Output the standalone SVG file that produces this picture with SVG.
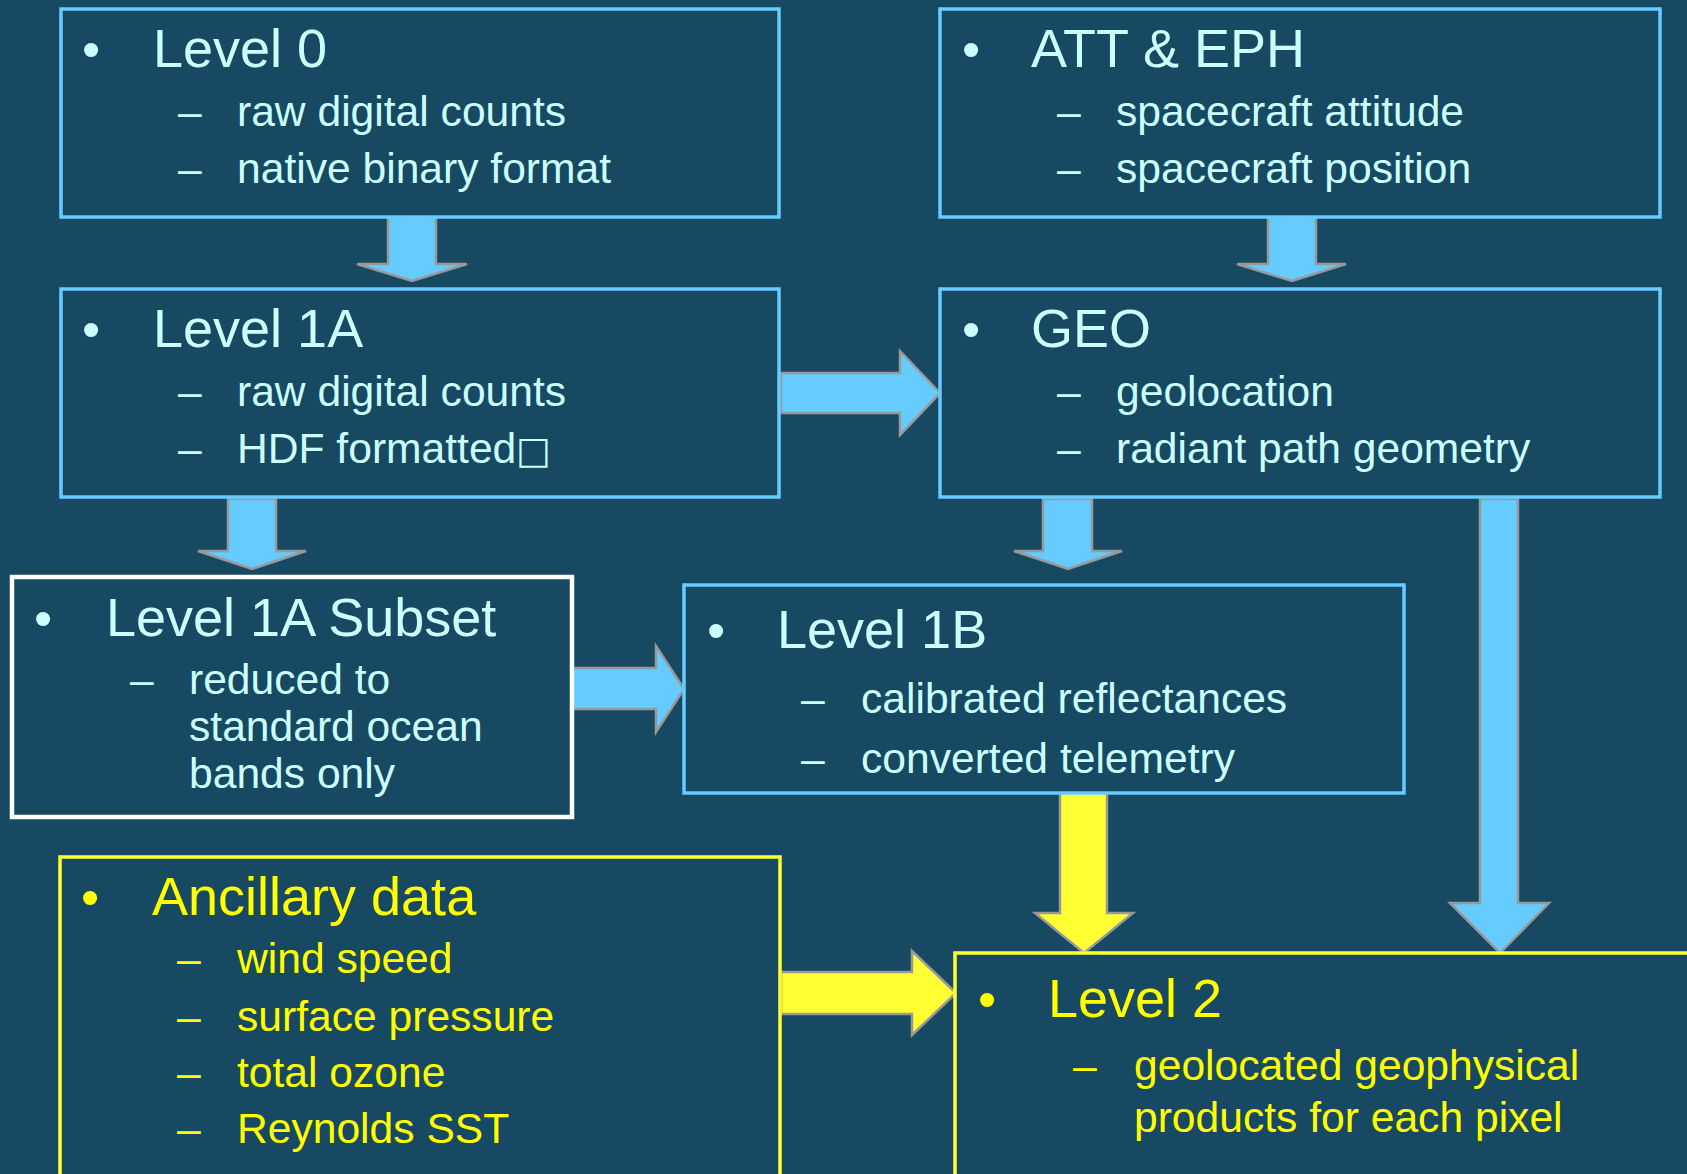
<svg xmlns="http://www.w3.org/2000/svg" width="1687" height="1174" viewBox="0 0 1687 1174">
<style>
text{font-family:"Liberation Sans",Arial,sans-serif}
.t{font-size:54px}
.s{font-size:42.6px}
.b{font-size:52px;text-anchor:middle}
.c{fill:#ccffff}
.y{fill:#ffff00}
.bx{fill:#184962;stroke:#66ccff;stroke-width:3.5}
.wb{fill:#184962;stroke:#ffffff;stroke-width:4.5}
.yb{fill:#184962;stroke:#ffff33;stroke-width:3.5}
.ab{fill:#66ccff;stroke:#999999;stroke-width:2.5;stroke-linejoin:miter}
.ay{fill:#ffff33;stroke:#999999;stroke-width:2.5;stroke-linejoin:miter}
</style>
<rect x="0" y="0" width="1687" height="1174" fill="#184962"/>

<g id="connectors">
<polygon class="ab" points="388,217 436,217 436,264 467,264 412,281 357,264 388,264"/>
<polygon class="ab" points="1268,217 1316,217 1316,264 1346,264 1292,281 1237,264 1268,264"/>
<polygon class="ab" points="228,499 276,499 276,551 306,551 252,569 198,551 228,551"/>
<polygon class="ab" points="1043,499 1092,499 1092,551 1122,551 1068,569 1014,551 1043,551"/>
<polygon class="ab" points="1480,499 1518,499 1518,903 1549,903 1500,953 1450,903 1480,903"/>
<polygon class="ab" points="781,373 900,373 900,351 940,393 900,435 900,413 781,413"/>
<polygon class="ab" points="571,668 656,668 656,646 684,689 656,732 656,709 571,709"/>
<polygon class="ay" points="1060,793 1107,793 1107,913 1133,913 1084,953 1035,913 1060,913"/>
<polygon class="ay" points="781,972 912,972 912,951 956,993 912,1035 912,1014 781,1014"/>
</g>

<g id="level0">
<rect class="bx" x="61" y="9" width="718" height="208"/>
<text class="b c" x="91" y="67">•</text>
<text class="t c" x="153" y="67">Level 0</text>
<text class="s c" x="178" y="126">–</text>
<text class="s c" x="237" y="126">raw digital counts</text>
<text class="s c" x="178" y="183">–</text>
<text class="s c" x="237" y="183">native binary format</text>
</g>

<g id="atteph">
<rect class="bx" x="940" y="9" width="720" height="208"/>
<text class="b c" x="971" y="67">•</text>
<text class="t c" x="1031" y="67">ATT &amp; EPH</text>
<text class="s c" x="1057" y="126">–</text>
<text class="s c" x="1116" y="126">spacecraft attitude</text>
<text class="s c" x="1057" y="183">–</text>
<text class="s c" x="1116" y="183">spacecraft position</text>
</g>

<g id="level1a">
<rect class="bx" x="61" y="289" width="718" height="208"/>
<text class="b c" x="91" y="347">•</text>
<text class="t c" x="153" y="347">Level 1A</text>
<text class="s c" x="178" y="406">–</text>
<text class="s c" x="237" y="406">raw digital counts</text>
<text class="s c" x="178" y="463">–</text>
<text class="s c" x="237" y="463">HDF formatted<tspan font-family="'DejaVu Sans',sans-serif" font-size="37px">□</tspan></text>
</g>

<g id="geo">
<rect class="bx" x="940" y="289" width="720" height="208"/>
<text class="b c" x="971" y="347">•</text>
<text class="t c" x="1031" y="347">GEO</text>
<text class="s c" x="1057" y="406">–</text>
<text class="s c" x="1116" y="406">geolocation</text>
<text class="s c" x="1057" y="463">–</text>
<text class="s c" x="1116" y="463">radiant path geometry</text>
</g>

<g id="level1asubset">
<rect class="wb" x="12" y="577" width="560" height="240"/>
<text class="b c" x="43" y="636">•</text>
<text class="t c" x="106" y="636">Level 1A Subset</text>
<text class="s c" x="130" y="694">–</text>
<text class="s c" x="189" y="694">reduced to</text>
<text class="s c" x="189" y="741">standard ocean</text>
<text class="s c" x="189" y="788">bands only</text>
</g>

<g id="level1b">
<rect class="bx" x="684" y="585" width="720" height="208"/>
<text class="b c" x="716" y="648">•</text>
<text class="t c" x="777" y="648">Level 1B</text>
<text class="s c" x="801" y="713">–</text>
<text class="s c" x="861" y="713">calibrated reflectances</text>
<text class="s c" x="801" y="773">–</text>
<text class="s c" x="861" y="773">converted telemetry</text>
</g>

<g id="ancillary">
<rect class="yb" x="60" y="857" width="720" height="400"/>
<text class="b y" x="90" y="915">•</text>
<text class="t y" x="152" y="915">Ancillary data</text>
<text class="s y" x="177" y="973">–</text>
<text class="s y" x="237" y="973">wind speed</text>
<text class="s y" x="177" y="1031">–</text>
<text class="s y" x="237" y="1031">surface pressure</text>
<text class="s y" x="177" y="1087">–</text>
<text class="s y" x="237" y="1087">total ozone</text>
<text class="s y" x="177" y="1143">–</text>
<text class="s y" x="237" y="1143">Reynolds SST</text>
</g>

<g id="level2">
<rect class="yb" x="955" y="953" width="800" height="400"/>
<text class="b y" x="987" y="1017">•</text>
<text class="t y" x="1048" y="1017">Level 2</text>
<text class="s y" x="1073" y="1080">–</text>
<text class="s y" x="1134" y="1080">geolocated geophysical</text>
<text class="s y" x="1134" y="1132">products for each pixel</text>
</g>
</svg>
